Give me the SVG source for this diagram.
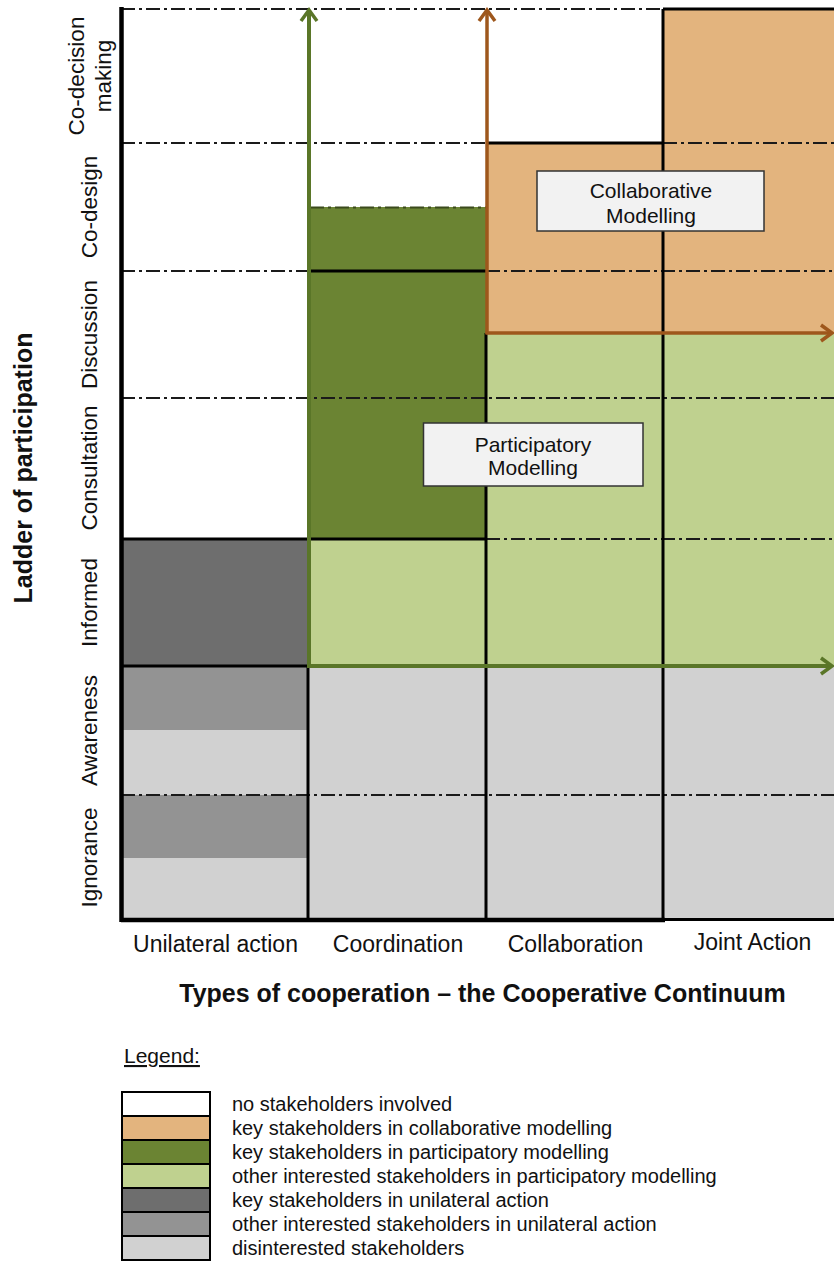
<svg xmlns="http://www.w3.org/2000/svg" width="834" height="1269" viewBox="0 0 834 1269">
<defs>
<style>
text{font-family:"Liberation Sans",Arial,sans-serif;fill:#111}
.lbl{font-size:23px}
.rl{font-size:22.5px}
.bold{font-weight:bold}
.box{fill:#f2f2f2;stroke:#333;stroke-width:1.5}
.bt{font-size:21px;text-anchor:middle}
.lg{font-size:20px}
.dd{stroke:#1a1a1a;stroke-width:1.8;stroke-dasharray:14 4 3 4;fill:none}
.solid{stroke:#000;stroke-width:3;fill:none}
.w{fill:#ffffff}.or{fill:#e3b47e}.dg{fill:#6b8433}.lgr{fill:#bfd18f}
.g1{fill:#6e6e6e}.g2{fill:#939393}.g3{fill:#d1d1d1}
.sw{stroke:#000;stroke-width:2}
</style>
<marker id="chevG" markerUnits="userSpaceOnUse" markerWidth="20" markerHeight="22" viewBox="-2 -2 18 22" refX="12" refY="9" orient="auto">
<path d="M1,1 L12,9 L1,17" fill="none" stroke="#5a7628" stroke-width="3.5"/>
</marker>
<marker id="chevO" markerUnits="userSpaceOnUse" markerWidth="20" markerHeight="22" viewBox="-2 -2 18 22" refX="12" refY="9" orient="auto">
<path d="M1,1 L12,9 L1,17" fill="none" stroke="#9e571c" stroke-width="3.5"/>
</marker>
</defs>
<rect x="0" y="0" width="834" height="1269" fill="#ffffff"/>

<g id="grid">
<g id="col-unilateral">
<rect class="w" x="121" y="8" width="187" height="531"/>
<rect class="g1" x="121" y="539" width="187" height="127"/>
<rect class="g2" x="121" y="666" width="187" height="64"/>
<rect class="g3" x="121" y="730" width="187" height="65"/>
<rect class="g2" x="121" y="795" width="187" height="63"/>
<rect class="g3" x="121" y="858" width="187" height="62"/>
</g>
<g id="col-coordination">
<rect class="w" x="308" y="8" width="178" height="199"/>
<rect class="dg" x="308" y="207" width="178" height="332"/>
<rect class="lgr" x="308" y="539" width="178" height="127"/>
<rect class="g3" x="308" y="666" width="178" height="254"/>
</g>
<g id="col-collaboration">
<rect class="w" x="486" y="8" width="177" height="135"/>
<rect class="or" x="486" y="143" width="177" height="190"/>
<rect class="lgr" x="486" y="333" width="177" height="333"/>
<rect class="g3" x="486" y="666" width="177" height="254"/>
</g>
<g id="col-joint">
<rect class="or" x="663" y="8" width="171" height="325"/>
<rect class="lgr" x="663" y="333" width="171" height="333"/>
<rect class="g3" x="663" y="666" width="171" height="254"/>
</g>
<g id="dashlines">
<path class="dd" d="M121,9 H663"/>
<path class="dd" d="M121,143 H486 M663,143 H834"/>
<path class="dd" d="M121,271 H308 M486,271 H834"/>
<path class="dd" d="M121,398 H834"/>
<path class="dd" d="M486,539 H834"/>
<path class="dd" d="M121,795 H834"/>
<path d="M310,207.5 H486" fill="none" stroke="#3b4a1c" stroke-width="2" stroke-dasharray="14 4 3 4"/>
</g>
<g id="solidlines">
<path class="solid" d="M486,143 H663"/>
<path class="solid" d="M663,9 H834"/>
<path class="solid" d="M308,271 H486"/>
<path class="solid" d="M121,539 H486"/>
<path class="solid" d="M121,666 H308"/>
<path class="solid" d="M308,666 V920"/>
<path class="solid" d="M486,333 V920"/>
<path class="solid" d="M663,9 V920"/>
<path class="solid" d="M663,919.5 H834" stroke-width="2.5"/>
<path d="M121,920 H665" stroke="#000" stroke-width="4.5" fill="none"/>
<path d="M121.5,7 V922" stroke="#000" stroke-width="4.5" fill="none"/>
</g>
</g>

<g id="connectors">
<path d="M309,666 V10" fill="none" stroke="#5a7628" stroke-width="4" marker-end="url(#chevG)"/>
<path d="M307,666 H832" fill="none" stroke="#5a7628" stroke-width="4" marker-end="url(#chevG)"/>
<path d="M487,334 V10" fill="none" stroke="#9e571c" stroke-width="3.5" marker-end="url(#chevO)"/>
<path d="M485.5,333 H832" fill="none" stroke="#9e571c" stroke-width="3.5" marker-end="url(#chevO)"/>
</g>

<g id="box-collaborative">
<rect class="box" x="537" y="171" width="227" height="60"/>
<text class="bt" x="651" y="198">Collaborative</text>
<text class="bt" x="651" y="223">Modelling</text>
</g>
<g id="box-participatory">
<rect class="box" x="423.5" y="423" width="219.5" height="63"/>
<text class="bt" x="533" y="452">Participatory</text>
<text class="bt" x="533" y="475">Modelling</text>
</g>

<g id="row-labels" class="rl" text-anchor="middle">
<text transform="translate(84,76) rotate(-90)">Co-decision</text>
<text transform="translate(111,76) rotate(-90)">making</text>
<text transform="translate(97,207) rotate(-90)">Co-design</text>
<text transform="translate(97,334.5) rotate(-90)">Discussion</text>
<text transform="translate(97,468) rotate(-90)">Consultation</text>
<text transform="translate(97,602.5) rotate(-90)">Informed</text>
<text transform="translate(97,730.5) rotate(-90)">Awareness</text>
<text transform="translate(97,857.5) rotate(-90)">Ignorance</text>
</g>
<g id="y-title">
<text class="bold" font-size="25" text-anchor="middle" transform="translate(32,468) rotate(-90)">Ladder of participation</text>
</g>

<g id="col-labels" class="lbl" text-anchor="middle">
<text x="215.5" y="952">Unilateral action</text>
<text x="398" y="952">Coordination</text>
<text x="575.5" y="952">Collaboration</text>
<text x="752.5" y="950">Joint Action</text>
</g>
<g id="x-title">
<text class="bold" font-size="25" text-anchor="middle" x="482.5" y="1002">Types of cooperation – the Cooperative Continuum</text>
</g>

<g id="legend">
<text x="124" y="1063" font-size="21" text-decoration="underline">Legend:</text>
<g id="legend-1"><rect class="w sw" x="122" y="1092" width="88" height="24"/><text class="lg" x="232" y="1111">no stakeholders involved</text></g>
<g id="legend-2"><rect class="or sw" x="122" y="1116" width="88" height="24"/><text class="lg" x="232" y="1135">key stakeholders in collaborative modelling</text></g>
<g id="legend-3"><rect class="dg sw" x="122" y="1140" width="88" height="24"/><text class="lg" x="232" y="1159">key stakeholders in participatory modelling</text></g>
<g id="legend-4"><rect class="lgr sw" x="122" y="1164" width="88" height="24"/><text class="lg" x="232" y="1183">other interested stakeholders in participatory modelling</text></g>
<g id="legend-5"><rect class="g1 sw" x="122" y="1188" width="88" height="24"/><text class="lg" x="232" y="1207">key stakeholders in unilateral action</text></g>
<g id="legend-6"><rect class="g2 sw" x="122" y="1212" width="88" height="24"/><text class="lg" x="232" y="1231">other interested stakeholders in unilateral action</text></g>
<g id="legend-7"><rect class="g3 sw" x="122" y="1236" width="88" height="24"/><text class="lg" x="232" y="1255">disinterested stakeholders</text></g>
</g>
</svg>
